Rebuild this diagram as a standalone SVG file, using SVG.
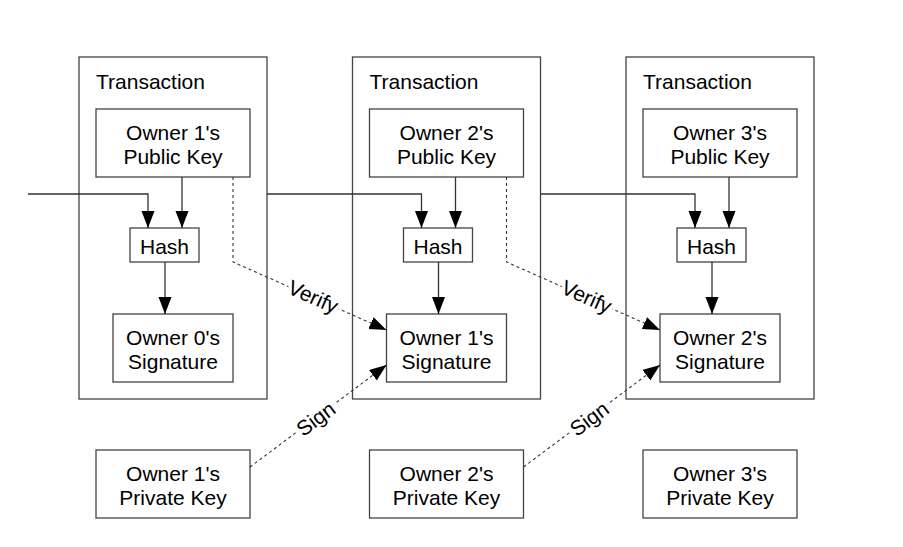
<svg xmlns="http://www.w3.org/2000/svg" width="903" height="547" viewBox="0 0 903 547">
<style>
.box{fill:#fff;stroke:#444;stroke-width:1.3}
.t{font-family:"Liberation Sans",Arial,sans-serif;font-size:21px;fill:#000}
.c{text-anchor:middle}
.ln{fill:none;stroke:#333;stroke-width:1.3}
.d{stroke-dasharray:3,3;stroke-width:1.1}
.lbl{font-family:"Liberation Sans",Arial,sans-serif;font-size:21px;fill:#000;text-anchor:middle;stroke:#fff;stroke-width:7;paint-order:stroke;stroke-linejoin:round}
</style>
<defs>
<marker id="ah" markerUnits="userSpaceOnUse" markerWidth="18" markerHeight="14" refX="17" refY="6.5" orient="auto">
<path d="M0,0 L17,6.5 L0,13 z" fill="#000"/>
</marker>
</defs>
<rect width="903" height="547" fill="#fff"/>
<g id="tx1"><rect class="box" x="79" y="57" width="188" height="342"/><text class="t" x="96" y="89">Transaction</text></g>
<g id="tx2"><rect class="box" x="352.5" y="57" width="188" height="342"/><text class="t" x="369.5" y="89">Transaction</text></g>
<g id="tx3"><rect class="box" x="626" y="57" width="188" height="342"/><text class="t" x="643" y="89">Transaction</text></g>

<g id="pub1"><rect class="box" x="96" y="109" width="154" height="68"/><text class="t c" x="173" y="140">Owner 1's</text><text class="t c" x="173" y="164">Public Key</text></g>
<g id="pub2"><rect class="box" x="369.5" y="109" width="154" height="68"/><text class="t c" x="446.5" y="140">Owner 2's</text><text class="t c" x="446.5" y="164">Public Key</text></g>
<g id="pub3"><rect class="box" x="643" y="109" width="154" height="68"/><text class="t c" x="720" y="140">Owner 3's</text><text class="t c" x="720" y="164">Public Key</text></g>

<g id="hash1"><rect class="box" x="130" y="228" width="69" height="34"/><text class="t c" x="164.5" y="254">Hash</text></g>
<g id="hash2"><rect class="box" x="403.5" y="228" width="69" height="34"/><text class="t c" x="438" y="254">Hash</text></g>
<g id="hash3"><rect class="box" x="677" y="228" width="69" height="34"/><text class="t c" x="711.5" y="254">Hash</text></g>

<g id="sig0"><rect class="box" x="113" y="314" width="120" height="68"/><text class="t c" x="173" y="345">Owner 0's</text><text class="t c" x="173" y="369">Signature</text></g>
<g id="sig1"><rect class="box" x="386.5" y="314" width="120" height="68"/><text class="t c" x="446.5" y="345">Owner 1's</text><text class="t c" x="446.5" y="369">Signature</text></g>
<g id="sig2"><rect class="box" x="660" y="314" width="120" height="68"/><text class="t c" x="720" y="345">Owner 2's</text><text class="t c" x="720" y="369">Signature</text></g>

<g id="priv1"><rect class="box" x="96" y="450" width="154" height="68"/><text class="t c" x="173" y="481">Owner 1's</text><text class="t c" x="173" y="505">Private Key</text></g>
<g id="priv2"><rect class="box" x="369.5" y="450" width="154" height="68"/><text class="t c" x="446.5" y="481">Owner 2's</text><text class="t c" x="446.5" y="505">Private Key</text></g>
<g id="priv3"><rect class="box" x="643" y="450" width="154" height="68"/><text class="t c" x="720" y="481">Owner 3's</text><text class="t c" x="720" y="505">Private Key</text></g>

<g id="connectors">
<path class="ln" d="M28,194 H148 V228" marker-end="url(#ah)"/>
<path class="ln" d="M182,177 V228" marker-end="url(#ah)"/>
<path class="ln" d="M165,262 V314" marker-end="url(#ah)"/>
<path class="ln" d="M267,194 H421.5 V228" marker-end="url(#ah)"/>
<path class="ln" d="M455.5,177 V228" marker-end="url(#ah)"/>
<path class="ln" d="M438.5,262 V314" marker-end="url(#ah)"/>
<path class="ln" d="M540.5,194 H695 V228" marker-end="url(#ah)"/>
<path class="ln" d="M729,177 V228" marker-end="url(#ah)"/>
<path class="ln" d="M712,262 V314" marker-end="url(#ah)"/>
<path class="ln d" d="M233,177 V262 L386.5,330" marker-end="url(#ah)"/>
<path class="ln d" d="M506.5,177 V262 L660,330" marker-end="url(#ah)"/>
<path class="ln d" d="M250,467 L386.5,365" marker-end="url(#ah)"/>
<path class="ln d" d="M523.5,467 L660,365" marker-end="url(#ah)"/>
<text class="lbl" transform="translate(313,297) rotate(23.9)" y="7">Verify</text>
<text class="lbl" transform="translate(586.5,297) rotate(23.9)" y="7">Verify</text>
<text class="lbl" transform="translate(316,419) rotate(-36.8)" y="7">Sign</text>
<text class="lbl" transform="translate(589.5,419) rotate(-36.8)" y="7">Sign</text>
</g>
</svg>
